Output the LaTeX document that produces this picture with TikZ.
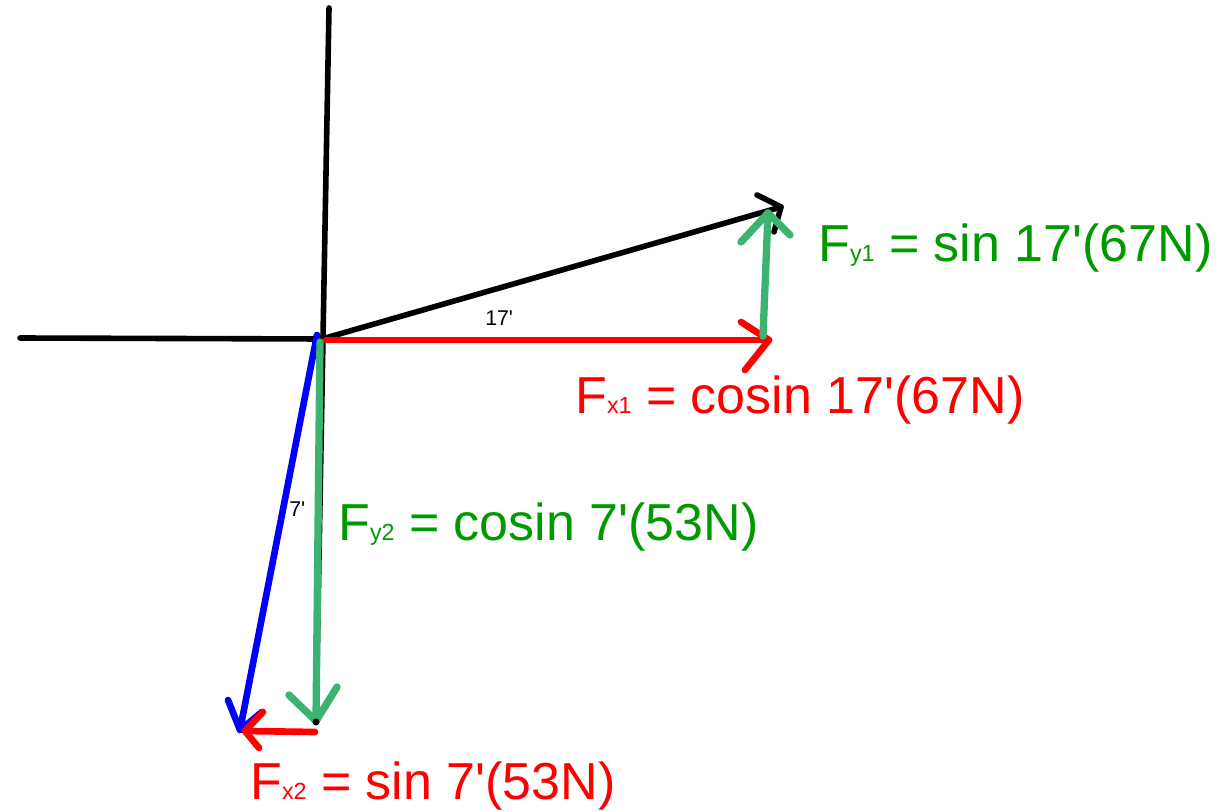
\documentclass[tikz,border=0pt]{standalone}
\usepackage{fontspec}
\setmainfont{Liberation Sans}
\definecolor{lblgreen}{HTML}{009900}
\definecolor{arrgreen}{HTML}{3CB371}
\definecolor{pred}{HTML}{FF0000}
\definecolor{pblue}{HTML}{0000FF}
\newcommand{\sbs}[1]{{\fontsize{17.5pt}{17.5pt}\selectfont #1}}
\newcommand{\apo}{\textquotesingle}
\tikzset{
  axisline/.style={draw=black, line width=4.2pt},
  blackvec/.style={draw=black, line width=4.2pt},
  redvec/.style={draw=pred, line width=5pt},
  greenvec/.style={draw=arrgreen, line width=5.5pt},
  bluevec/.style={draw=pblue, line width=5pt},
  biglabel/.style={anchor=base west, inner sep=0pt, font=\fontsize{39pt}{43pt}\selectfont},
  anglabel/.style={anchor=base west, inner sep=0pt, font=\fontsize{16pt}{18pt}\selectfont, text=black},
}
\begin{document}
\begin{tikzpicture}[x=0.75pt,y=-0.75pt, line cap=round, line join=round]
\useasboundingbox (0,0) rectangle (1223,812);
% coordinates
\coordinate (O) at (322,339);
\coordinate (ytop) at (329,8);
\coordinate (ybot) at (316,722);
\coordinate (xleft) at (20,338);
\coordinate (vtip) at (781,207);
\coordinate (vw1) at (757,195);
\coordinate (vw2) at (774,232);
\coordinate (fx1s) at (326,340);
\coordinate (fx1tip) at (769,340);
\coordinate (fx1w1) at (741,322);
\coordinate (fx1w2) at (745,370);
\coordinate (fy1s) at (763,336);
\coordinate (fy1tip) at (768,213);
\coordinate (fy1w1) at (741,242);
\coordinate (fy1w2) at (790,235);
\coordinate (bs) at (317,335);
\coordinate (btip) at (240,730);
\coordinate (bw1) at (228,700);
\coordinate (bw2) at (262,712);
\coordinate (fy2s) at (320,342);
\coordinate (fy2tip) at (316,721);
\coordinate (fy2w1) at (289,695);
\coordinate (fy2w2) at (337,687);
\coordinate (fx2s) at (315,732);
\coordinate (fx2tip) at (245,731);
\coordinate (fx2w1) at (263,712);
\coordinate (fx2w2) at (259,748);
% axes
\draw[axisline] (ytop) -- (ybot);
\draw[axisline] (xleft) -- (O);
% black vector
\draw[blackvec] (O) -- (vtip);
\draw[blackvec] (vw1) -- (vtip) -- (vw2);
% red Fx1
\draw[redvec] (fx1s) -- (fx1tip);
\draw[redvec] (fx1w1) -- (fx1tip) -- (fx1w2);
% green Fy1
\draw[greenvec] (fy1s) -- (fy1tip);
\draw[greenvec] (fy1w1) -- (fy1tip) -- (fy1w2);
% blue vector
\draw[bluevec] (bs) -- (btip);
\draw[bluevec] (bw1) -- (btip) -- (bw2);
% green Fy2
\draw[greenvec] (fy2s) -- (fy2tip);
\draw[greenvec] (fy2w1) -- (fy2tip) -- (fy2w2);
\fill[black] (ybot) circle (3.5);
% red Fx2
\draw[redvec] (fx2s) -- (fx2tip);
\draw[redvec] (fx2w1) -- (fx2tip) -- (fx2w2);
% labels
\node[anglabel] (a17) at (485,326) {17\apo};
\node[anglabel] (a7) at (289,516) {7\apo};
\node[biglabel, text=pred] (lx1) at (575,413) {F\sbs{x1} = cosin 17\apo(67N)};
\node[biglabel, text=lblgreen] (ly1) at (818,262) {F\sbs{y1} = sin 17\apo(67N)};
\node[biglabel, text=lblgreen] (ly2) at (338,540) {F\sbs{y2} = cosin 7\apo(53N)};
\node[biglabel, text=pred] (lx2) at (250,799) {F\sbs{x2} = sin 7\apo(53N)};
\end{tikzpicture}
\end{document}
